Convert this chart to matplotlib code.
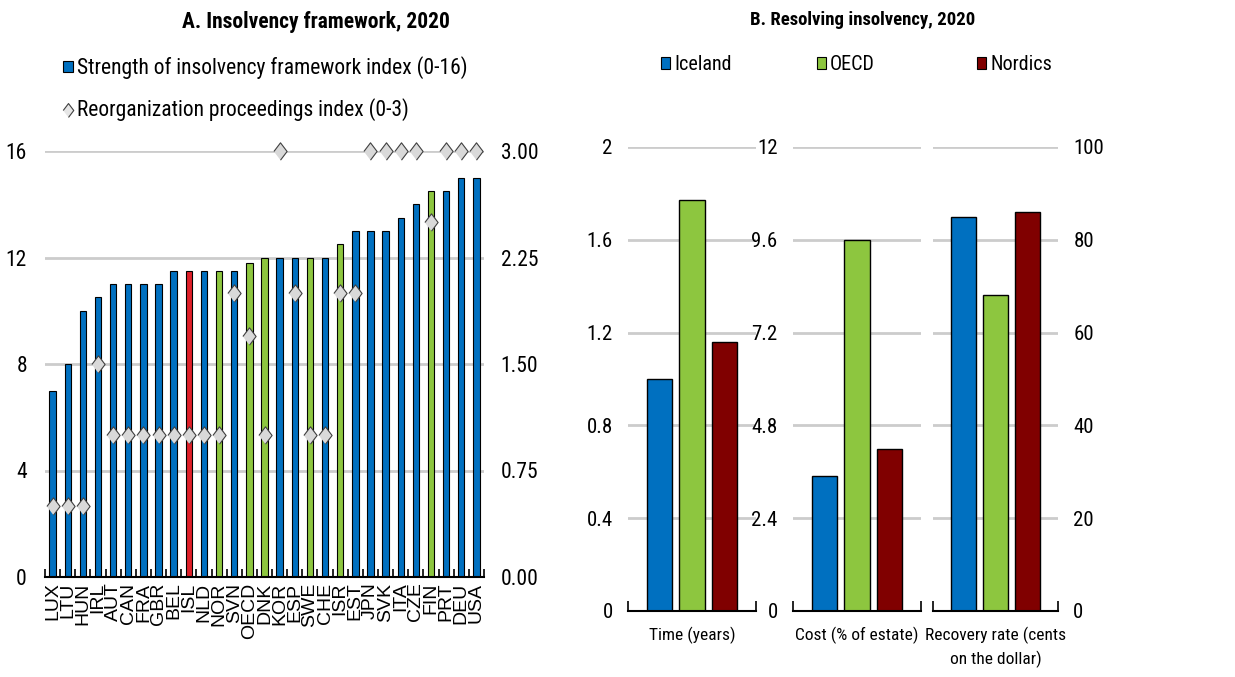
import numpy as np
import matplotlib
matplotlib.use('Agg')
import matplotlib.pyplot as plt
from matplotlib.patches import Patch
from matplotlib.lines import Line2D

plt.rcParams['font.family'] = ['Roboto Condensed', 'Liberation Sans', 'DejaVu Sans']

# Panel A: insolvency framework, 2020
countries = ['LUX', 'LTU', 'HUN', 'IRL', 'AUT', 'CAN', 'FRA', 'GBR', 'BEL', 'ISL',
             'NLD', 'NOR', 'SVN', 'OECD', 'DNK', 'KOR', 'ESP', 'SWE', 'CHE', 'ISR',
             'EST', 'JPN', 'SVK', 'ITA', 'CZE', 'FIN', 'PRT', 'DEU', 'USA']
strength = [7, 8, 10, 10.5, 11, 11, 11, 11, 11.5, 11.5,
            11.5, 11.5, 11.5, 11.8, 12, 12, 12, 12, 12, 12.5,
            13, 13, 13, 13.5, 14, 14.5, 14.5, 15, 15]
reorg = [0.5, 0.5, 0.5, 1.5, 1, 1, 1, 1, 1, 1,
         1, 1, 2, 1.7, 1, 3, 2, 1, 1, 2,
         2, 3, 3, 3, 3, 2.5, 3, 3, 3]
green_ones = ['NOR', 'OECD', 'DNK', 'SWE', 'ISR', 'FIN']
red_ones = ['ISL']

# Panel B: resolving insolvency, 2020
groups = ['Iceland', 'OECD', 'Nordics']
time_years = [1.0, 1.77, 1.16]
cost_pct = [3.5, 9.6, 4.2]
recovery = [85, 68, 86]

blue = '#0070C0'
green = '#8DC63F'
red = '#E0202A'
dred = '#800000'
grid_c = '#CCCCCC'
group_colors = [blue, green, dred]

W, H = 1235, 677
fig = plt.figure(figsize=(W / 100, H / 100), dpi=100)


def fx(px):
    return px / W


def fy(py):
    return 1 - py / H


# ---------- panel A ----------
ax = fig.add_axes([fx(45), fy(577), fx(484 - 45), (577 - 151) / H])
x = np.arange(len(countries))
cols = [red if c in red_ones else green if c in green_ones else blue for c in countries]
ax.bar(x, strength, width=0.42, color=cols, edgecolor='black', linewidth=0.8, zorder=2)
ax.set_xlim(-0.5, len(countries) - 0.5)
ax.set_ylim(0, 16)
ax.set_yticks([0, 4, 8, 12, 16])
ax.yaxis.grid(True, color=grid_c, linewidth=2)
ax.set_axisbelow(True)
for s in ['top', 'left', 'right']:
    ax.spines[s].set_visible(False)
ax.spines['bottom'].set_linewidth(1.5)
ax.set_xticks(x)
ax.set_xticklabels(countries, rotation=90, fontsize=14, family=['Liberation Sans', 'DejaVu Sans'])
ax.set_xticks(np.arange(-0.5, len(countries), 1), minor=True)
ax.tick_params(axis='x', which='major', length=0, pad=4)
ax.tick_params(axis='x', which='minor', direction='in', length=6, width=1.2)
ax.tick_params(axis='y', length=0, pad=13, labelsize=15.5)

ax2 = ax.twinx()
ax2.set_ylim(0, 3)
ax2.set_yticks([0, 0.75, 1.5, 2.25, 3])
ax2.set_yticklabels(['%.2f' % v for v in [0, 0.75, 1.5, 2.25, 3]])
ax2.tick_params(axis='y', length=0, pad=12, labelsize=15.5)
for s in ['top', 'left', 'right', 'bottom']:
    ax2.spines[s].set_visible(False)
diamond = [(-0.38, 0), (0, 0.5), (0.38, 0), (0, -0.5)]
ax2.plot(x, reorg, linestyle='none', marker=diamond, markersize=12.5,
         markerfacecolor='#D9D9D9', markeredgecolor='#404040', markeredgewidth=0.8,
         clip_on=False, zorder=3)

fig.text(fx(316), fy(22), 'A. Insolvency framework, 2020', ha='center', va='center',
         fontsize=15.5, fontweight='bold')
legA = [(Patch(facecolor=blue, edgecolor='black', linewidth=0.8),
         'Strength of insolvency framework index (0-16)', 68),
        (Line2D([], [], linestyle='none', marker=diamond, markersize=10,
                markerfacecolor='#E6E6E6', markeredgecolor='#404040', markeredgewidth=0.8),
         'Reorganization proceedings index (0-3)', 110)]
for h, lab, ly in legA:
    fig.legend([h], [lab], loc='center left', bbox_to_anchor=(fx(63), fy(ly)), frameon=False,
               fontsize=15.5, handlelength=0.45, handleheight=0.45, handletextpad=0.2,
               borderpad=0, borderaxespad=0)

# ---------- panel B ----------
panels = [
    (time_years, [0, 0.4, 0.8, 1.2, 1.6, 2], ['0', '0.4', '0.8', '1.2', '1.6', '2'], 'Time (years)', 628, 128, 'left'),
    (cost_pct, [0, 2.4, 4.8, 7.2, 9.6, 12], ['0', '2.4', '4.8', '7.2', '9.6', '12'], 'Cost (% of estate)', 793, 128, 'left'),
    (recovery, [0, 20, 40, 60, 80, 100], ['0', '20', '40', '60', '80', '100'], 'Recovery rate (cents\non the dollar)', 933, 125, 'right'),
]
for vals, ticks, labels, xlab, left, width, side in panels:
    b = fig.add_axes([fx(left), fy(611), fx(width), (611 - 147) / H])
    b.bar(np.arange(3), vals, width=0.78, color=group_colors, edgecolor='black', linewidth=1, zorder=2)
    b.set_xlim(-0.96, 2.96)
    b.set_ylim(ticks[0], ticks[-1])
    b.set_yticks(ticks)
    b.set_yticklabels(labels)
    b.yaxis.grid(True, color=grid_c, linewidth=2)
    b.set_axisbelow(True)
    for s in ['top', 'left', 'right']:
        b.spines[s].set_visible(False)
    b.spines['bottom'].set_linewidth(1.5)
    b.set_xticks([-0.96, 2.96])
    b.set_xticklabels(['', ''])
    b.tick_params(axis='x', direction='in', length=7, width=1.2)
    if side == 'right':
        b.yaxis.tick_right()
    b.tick_params(axis='y', length=0, pad=11, labelsize=15)
    b.set_xlabel(xlab, fontsize=12.5, labelpad=8, linespacing=1.45)

fig.text(fx(863), fy(20), 'B. Resolving insolvency, 2020', ha='center', va='center',
         fontsize=13.5, fontweight='bold')
leg_x = [661, 817, 977]
for g, c, lx in zip(groups, group_colors, leg_x):
    fig.legend([Patch(facecolor=c, edgecolor='black', linewidth=0.8)], [g],
               loc='center left', bbox_to_anchor=(fx(lx), fy(65)), frameon=False, fontsize=14.5,
               handlelength=0.45, handleheight=0.55, handletextpad=0.2,
               borderpad=0, borderaxespad=0)

fig.savefig('out.png', dpi=100)
